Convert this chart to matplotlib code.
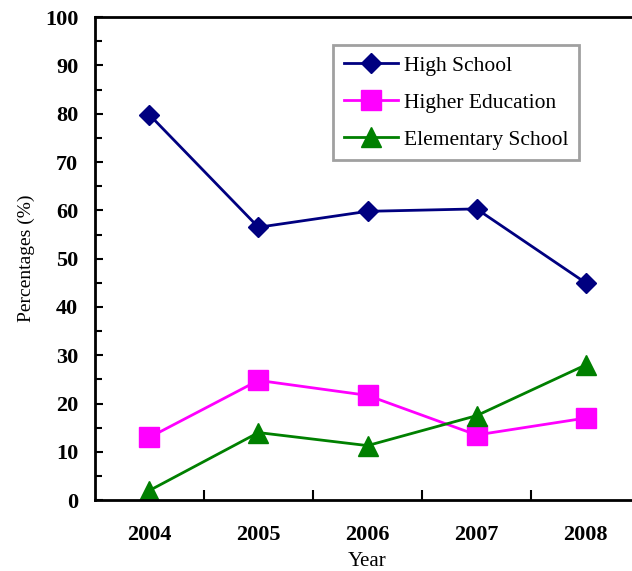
import matplotlib
matplotlib.use('Agg')
import matplotlib.pyplot as plt
from matplotlib.ticker import MultipleLocator, FixedLocator

years = ['2004', '2005', '2006', '2007', '2008']
high_school = [79.8, 56.5, 59.8, 60.3, 45.0]
higher_edu = [13.0, 24.8, 21.7, 13.5, 17.0]
elementary = [2.0, 14.0, 11.3, 17.5, 28.0]

plt.rcParams['font.family'] = ['Liberation Serif', 'DejaVu Serif']

fig = plt.figure(figsize=(6.32, 5.71), dpi=100)
# axes runs off the right edge, like the original
ax = fig.add_axes([0.150, 0.124, 0.863, 0.846])

x = range(len(years))
ax.plot(x, high_school, color='#000080', lw=2, marker='D', ms=10.5,
        label='High School')
ax.plot(x, higher_edu, color='#FF00FF', lw=2, marker='s', ms=14,
        label='Higher Education')
ax.plot(x, elementary, color='#008000', lw=2, marker='^', ms=15,
        label='Elementary School')

ax.set_xlim(-0.5, 4.5)
ax.set_ylim(0, 100)

# y axis
ax.yaxis.set_major_locator(MultipleLocator(10))
ax.yaxis.set_minor_locator(MultipleLocator(5))
ax.tick_params(axis='y', which='both', direction='in', width=1.5, left=True, right=False)
ax.tick_params(axis='y', which='major', length=6, pad=12, labelsize=16)
ax.tick_params(axis='y', which='minor', length=5)

# x axis: labels at centers, ticks at boundaries
ax.set_xticks(list(x))
ax.set_xticklabels(years)
ax.xaxis.set_minor_locator(FixedLocator([0.5, 1.5, 2.5, 3.5]))
ax.tick_params(axis='x', which='major', length=0, pad=18, labelsize=16)
ax.tick_params(axis='x', which='minor', direction='in', length=7, width=1.5)

for lab in ax.get_xticklabels() + ax.get_yticklabels():
    lab.set_fontweight('bold')

for s in ['left', 'bottom', 'top', 'right']:
    ax.spines[s].set_linewidth(2)

ax.set_xlabel('Year', fontsize=15, labelpad=5)
ax.set_ylabel('Percentages (%)', fontsize=14, labelpad=7)

leg = ax.legend(loc='upper left', bbox_to_anchor=(333 / 632, 1 - 45 / 571),
                bbox_transform=fig.transFigure, fontsize=15.5, fancybox=False,
                framealpha=1, edgecolor='#a0a0a0', handlelength=2.5,
                handletextpad=0.3, labelspacing=0.78, borderpad=0.5,
                borderaxespad=0)
leg.get_frame().set_linewidth(2)

fig.savefig('out.png', dpi=100)
